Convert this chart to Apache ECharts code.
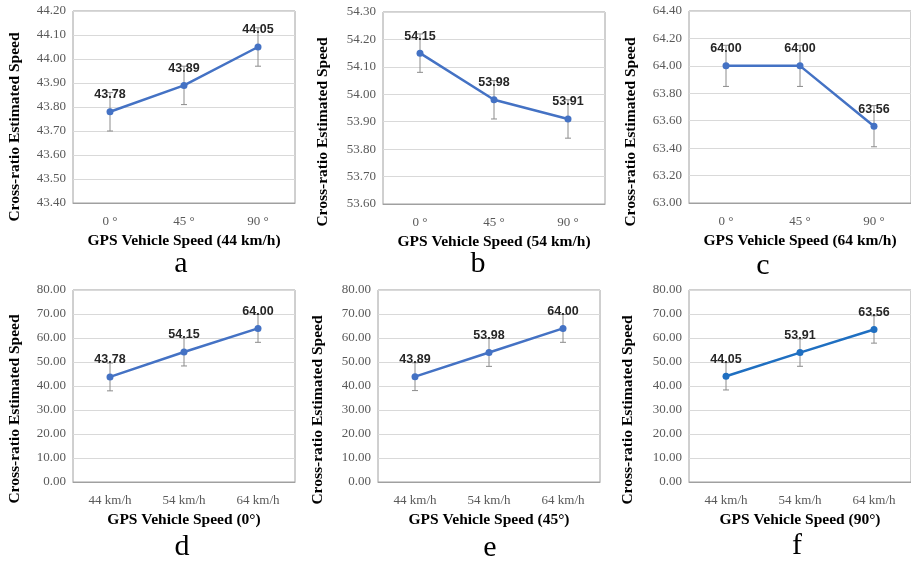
<!DOCTYPE html>
<html>
<head>
<meta charset="utf-8">
<script src="https://cdn.jsdelivr.net/npm/echarts@6/dist/echarts.min.js"></script>
<style>
  html, body { margin: 0; padding: 0; background: #fff; }
  #main { width: 911px; height: 563px; }
</style>
</head>
<body>
<div id="main"></div>
<script>
// categories
var angleCats = ['0 °', '45 °', '90 °'];
var speedCats = ['44 km/h', '54 km/h', '64 km/h'];

// series values (top row: fixed speed, bottom row: fixed angle)
var speed44 = [43.78, 43.89, 44.05];
var speed54 = [54.15, 53.98, 53.91];
var speed64 = [64.00, 64.00, 63.56];
var angle0 = [43.78, 54.15, 64.00];
var angle45 = [43.89, 53.98, 64.00];
var angle90 = [44.05, 53.91, 63.56];

// error bar half lengths
var err44 = [0.08, 0.08, 0.08];
var err54 = [0.07, 0.07, 0.07];
var err64 = [0.15, 0.15, 0.15];
var err0 = [5.8, 5.8, 5.8];
var err45 = [5.8, 5.8, 5.8];
var err90 = [5.7, 5.7, 5.7];

// axis ranges
var yMins = [43.4, 53.6, 63.0, 0, 0, 0];
var yMaxs = [44.2, 54.3, 64.4, 80, 80, 80];
var ySteps = [0.1, 0.1, 0.2, 10, 10, 10];

var yTitle = 'Cross-ratio Estimated Speed';
var xTitles = ['GPS Vehicle Speed (44 km/h)', 'GPS Vehicle Speed (54 km/h)', 'GPS Vehicle Speed (64 km/h)',
               'GPS Vehicle Speed (0°)', 'GPS Vehicle Speed (45°)', 'GPS Vehicle Speed (90°)'];
var letters = ['a', 'b', 'c', 'd', 'e', 'f'];

// layout of each panel
var panels = [
  {cats: angleCats, vals: speed44, err: err44, left: 73, top: 11, color: '#4472c4', tx: 15, ty: 127, lx: 181, ly: 264},
  {cats: angleCats, vals: speed54, err: err54, left: 383, top: 12, color: '#4472c4', tx: 323, ty: 132, lx: 478, ly: 264},
  {cats: angleCats, vals: speed64, err: err64, left: 689, top: 11, color: '#4472c4', tx: 631, ty: 132, lx: 763, ly: 266},
  {cats: speedCats, vals: angle0, err: err0, left: 73, top: 290, color: '#4472c4', tx: 15, ty: 409, lx: 182, ly: 547},
  {cats: speedCats, vals: angle45, err: err45, left: 378, top: 290, color: '#4472c4', tx: 318, ty: 410, lx: 490, ly: 548},
  {cats: speedCats, vals: angle90, err: err90, left: 689, top: 290, color: '#1f6fc1', tx: 628, ty: 410, lx: 797, ly: 546}
];

var serif = '"Liberation Serif", "Times New Roman", serif';
var grids = [], xAxes = [], yAxes = [], series = [], graphics = [];

panels.forEach(function (p, i) {
  grids.push({left: p.left, top: p.top, width: 222, height: 192, show: true,
              borderColor: '#a0a0a0', borderWidth: 1, backgroundColor: 'transparent'});
  xAxes.push({
    type: 'category', gridIndex: i, data: p.cats,
    axisLine: {lineStyle: {color: '#a0a0a0'}},
    axisTick: {show: false},
    axisLabel: {fontFamily: serif, fontSize: 13, color: '#595959', margin: 12},
    name: xTitles[i], nameLocation: 'middle', nameGap: 30,
    nameTextStyle: {fontFamily: serif, fontSize: 15.5, fontWeight: 'bold', color: '#000'}
  });
  yAxes.push({
    type: 'value', gridIndex: i, min: yMins[i], max: yMaxs[i], interval: ySteps[i],
    axisLine: {show: false}, axisTick: {show: false},
    splitLine: {lineStyle: {color: '#d9d9d9'}},
    axisLabel: {fontFamily: serif, fontSize: 13, color: '#595959', margin: 7,
                formatter: function (v) { return v.toFixed(2); }}
  });
  var errData = p.vals.map(function (v, k) { return [k, v - p.err[k], v + p.err[k]]; });
  series.push({
    type: 'custom', xAxisIndex: i, yAxisIndex: i, z: 1, data: errData,
    renderItem: function (params, api) {
      var lo = api.coord([api.value(0), api.value(1)]);
      var hi = api.coord([api.value(0), api.value(2)]);
      var st = {stroke: '#8c8c8c', lineWidth: 1};
      return {type: 'group', children: [
        {type: 'line', shape: {x1: lo[0], y1: lo[1], x2: hi[0], y2: hi[1]}, style: st},
        {type: 'line', shape: {x1: lo[0] - 3, y1: lo[1], x2: lo[0] + 3, y2: lo[1]}, style: st},
        {type: 'line', shape: {x1: hi[0] - 3, y1: hi[1], x2: hi[0] + 3, y2: hi[1]}, style: st}
      ]};
    }
  });
  series.push({
    type: 'line', xAxisIndex: i, yAxisIndex: i, z: 3, data: p.vals,
    symbol: 'circle', symbolSize: 7,
    lineStyle: {color: p.color, width: 2.5},
    itemStyle: {color: p.color},
    label: {show: true, position: 'top', distance: 7, fontFamily: '"Liberation Sans", Arial, sans-serif',
            fontSize: 12.5, fontWeight: 'bold', color: '#262626',
            formatter: function (o) { return o.value.toFixed(2); }}
  });
  // rotated y-axis title
  graphics.push({
    type: 'text', x: p.tx, y: p.ty, rotation: Math.PI / 2,
    style: {text: yTitle, fontFamily: serif, fontSize: 15.5, fontWeight: 'bold', fill: '#000',
            align: 'center', verticalAlign: 'middle'}
  });
  // panel letter
  graphics.push({
    type: 'text', x: p.lx, y: p.ly,
    style: {text: letters[i], fontFamily: serif, fontSize: 30, fill: '#000',
            align: 'center', verticalAlign: 'middle'}
  });
});

var chart = echarts.init(document.getElementById('main'));
chart.setOption({
  animation: false,
  grid: grids, xAxis: xAxes, yAxis: yAxes, series: series, graphic: graphics
});
</script>
</body>
</html>
